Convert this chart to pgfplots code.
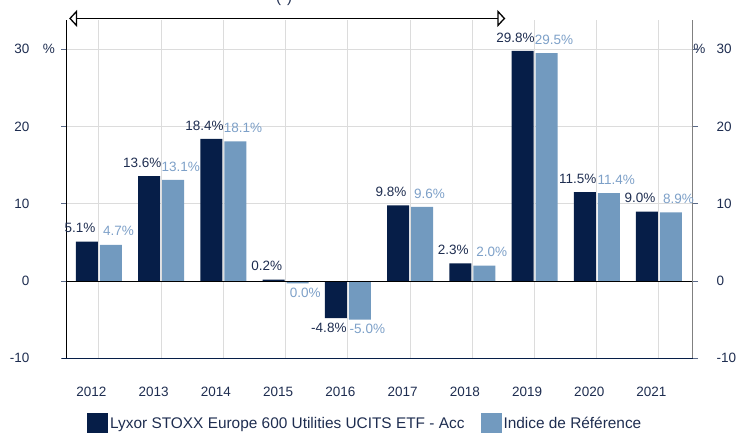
\documentclass[border=0pt]{standalone}
\usepackage{fontspec}
\setmainfont{Liberation Sans}
\usepackage{pgfplots}
\pgfplotsset{compat=1.18}
\usetikzlibrary{arrows.meta}
\definecolor{navy}{RGB}{6,30,72}
\definecolor{lblue}{RGB}{114,154,191}
\definecolor{tnavy}{RGB}{30,45,80}
\definecolor{tlblue}{RGB}{125,160,200}
\definecolor{gridcol}{RGB}{220,220,220}
\definecolor{axgray}{RGB}{128,128,128}
\definecolor{tickcol}{RGB}{90,105,135}
\begin{document}
\begin{tikzpicture}
\begin{axis}[
  at={(66.7pt,73.7pt)}, anchor=south west,
  scale only axis, width=626pt, height=338.3pt,
  xmin=-0.519, xmax=9.542, ymin=-10, ymax=33.8,
  axis line style={draw=none},
  clip=false,
  xtick={0,1,2,3,4,5,6,7,8,9},
  xticklabels={2012,2013,2014,2015,2016,2017,2018,2019,2020,2021},
  x tick style={draw=none},
  ytick={-10,0,10,20,30}, yticklabels={-10,0,10,20,30},
  ytick pos=left, tick align=outside, major tick length=5.3pt,
  y tick style={color=tickcol, line width=0.8pt},
  xmajorgrids, ymajorgrids,
  grid style={color=gridcol, line width=1pt},
  tick label style={font=\fontsize{13.5}{15}\selectfont, text=tnavy},
  xticklabel style={anchor=center, inner sep=0pt, yshift=-28.7pt, xshift=-7.5pt},
  yticklabel style={anchor=east, inner sep=0pt, xshift=-31.7pt},
  ybar, bar width=22pt,
  nodes near coords, point meta=explicit symbolic,
  nodes near coords align=vertical,
  visualization depends on={y \as \rawy},
  every node near coord/.append style={font=\fontsize{13.5}{15}\selectfont, inner sep=0pt,
     yshift={ifthenelse(\rawy<0,-14.5,8.5)*1pt}},
  legend style={at={([xshift=20.3pt,yshift=-54.7pt]rel axis cs:0,0)}, anchor=north west,
     draw=none, fill=none, inner sep=0pt, legend columns=2,
     font=\fontsize{15.4}{18}\selectfont, text=tnavy,
     /tikz/every even column/.append style={column sep=14pt}},
  legend image code/.code={\fill[#1] (0pt,-11pt) rectangle (21pt,10.3pt);},
]
\addplot[fill=navy, draw=none,
  every node near coord/.append style={text=tnavy, xshift=-7pt}] coordinates {
  (0,5.1) [5.1\%] (1,13.6) [13.6\%] (2,18.4) [18.4\%] (3,0.2) [0.2\%] (4,-4.8) [-4.8\%]
  (5,9.8) [9.8\%] (6,2.3) [2.3\%] (7,29.8) [29.8\%] (8,11.5) [11.5\%] (9,9.0) [9.0\%]};
\addlegendentry{Lyxor STOXX Europe 600 Utilities UCITS ETF - Acc}
\addplot[fill=lblue, draw=none,
  every node near coord/.append style={text=tlblue, xshift=7.5pt}] coordinates {
  (0,4.7) [4.7\%] (1,13.1) [13.1\%] (2,18.1) [18.1\%] (3,-0.3) [0.0\%] (4,-5.0) [-5.0\%]
  (5,9.6) [9.6\%] (6,2.0) [2.0\%] (7,29.5) [29.5\%] (8,11.4) [11.4\%] (9,8.9) [8.9\%]};
\addlegendentry{Indice de Référence}
\draw[black, line width=0.9pt] (axis cs:-0.519,0) -- (axis cs:9.542,0);
\draw[black, line width=0.8pt] (rel axis cs:0,0) -- (rel axis cs:0,1);
\draw[axgray, line width=1.5pt] (rel axis cs:1,0) -- (rel axis cs:1,1);
\draw[navy, line width=1pt] ([xshift=-5pt]rel axis cs:0,0) -- ([xshift=5.3pt]rel axis cs:1,0);
\draw[line width=1.3pt, {Triangle[open,length=8pt,width=17pt]}-{Triangle[open,length=8pt,width=17pt]}]
  (axis cs:-0.48,34.0) -- (axis cs:6.53,34.0);
\node[anchor=west, inner sep=0pt, font=\fontsize{13.5}{15}\selectfont, text=tnavy]
  at ([xshift=-24pt]axis cs:-0.519,30) {\%};
\node[anchor=west, inner sep=0pt, font=\fontsize{13.5}{15}\selectfont, text=tnavy]
  at ([xshift=0.5pt]axis cs:9.542,30) {\%};
\end{axis}
\begin{axis}[
  at={(66.7pt,73.7pt)}, anchor=south west,
  scale only axis, width=626pt, height=338.3pt,
  xmin=-0.519, xmax=9.542, ymin=-10, ymax=33.8,
  axis line style={draw=none},
  xtick=\empty,
  ytick={-10,0,10,20,30}, yticklabels={-10,0,10,20,30},
  ytick pos=right, yticklabel pos=right, tick align=outside, major tick length=5.3pt,
  y tick style={color=tickcol, line width=0.8pt},
  tick label style={font=\fontsize{13.5}{15}\selectfont, text=tnavy},
  yticklabel style={anchor=west, inner sep=0pt, xshift=18.5pt},
]
\end{axis}
\node[anchor=base west, inner sep=0pt, font=\fontsize{15}{18}\selectfont, text=tnavy]
  at (276pt,429pt) {(*)};
\pgfresetboundingbox
\path[use as bounding box] (0,0) rectangle (736pt,432pt);
\end{tikzpicture}
\end{document}
